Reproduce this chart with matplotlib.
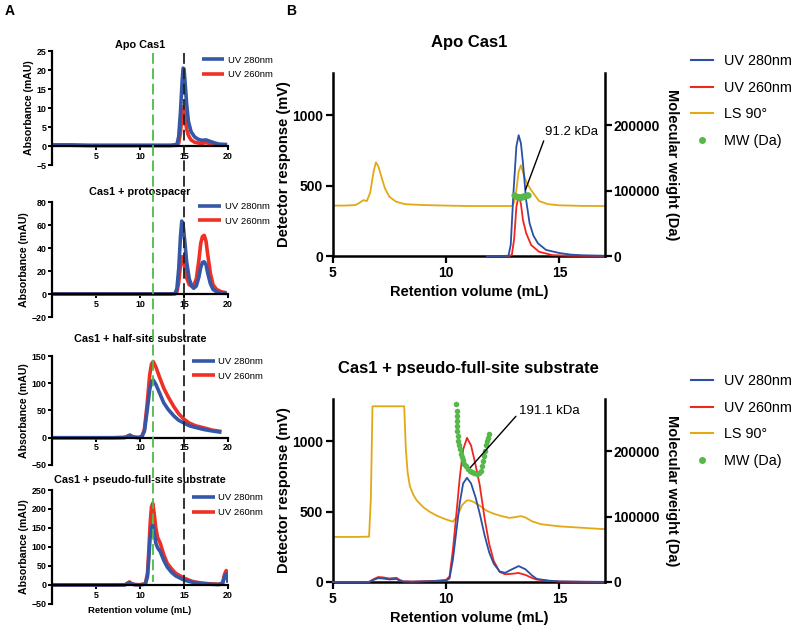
import numpy as np
import matplotlib.pyplot as plt
import matplotlib.transforms as mtransforms
from matplotlib.lines import Line2D

plt.rcParams['font.family'] = ['Liberation Sans', 'DejaVu Sans']

# ---------------- Panel A data (SEC, absorbance in mAU) ----------------
apo_x = [0, 2, 4, 6, 8, 10, 12, 13.5, 14.2, 14.4, 14.6, 14.8, 14.9, 15.0, 15.1,
         15.3, 15.5, 15.8, 16.2, 16.6, 17.0, 17.5, 18.0, 18.5, 19.0, 19.9]
apo_280 = [0.3, 0.3, 0.2, 0.2, 0.2, 0.2, 0.2, 0.2, 0.4, 2.5, 9, 17.5, 20.5, 20.3, 17.5,
           11, 6.5, 3.8, 2.4, 1.8, 1.5, 1.6, 1.2, 0.8, 0.5, 0.4]
apo_260 = [0.2, 0.2, 0.1, 0.1, 0.1, 0.1, 0.1, 0.1, 0.2, 0.8, 3.5, 8.5, 10.3, 9.6, 7.5,
           4.5, 2.8, 1.6, 1.0, 0.8, 0.7, 0.9, 0.6, 0.4, 0.3, 0.2]

proto_x = [0, 4, 8, 12, 13.5, 14.0, 14.2, 14.4, 14.6, 14.75, 14.9, 15.1, 15.3, 15.6,
           15.9, 16.1, 16.4, 16.7, 16.9, 17.1, 17.3, 17.5, 17.7, 18.0, 18.3, 18.7, 19.2, 19.85]
proto_280 = [0, 0, 0, 0, 0, 0.5, 5, 22, 50, 63.5, 60, 45, 28, 13,
             6.5, 5, 7, 15, 23, 27.5, 28, 25.5, 18, 9, 4, 2, 1, 0.5]
proto_260 = [0, 0, 0, 0, 0, 0.2, 2, 10, 25, 32.5, 31, 22, 14, 8,
             7, 7.5, 13, 30, 44, 50, 51, 46, 34, 18, 8, 4, 2, 1]

half_x = [0, 4, 7, 8.3, 8.6, 8.85, 9.1, 9.4, 9.8, 10.2, 10.5, 10.8, 11.1, 11.3, 11.5,
          11.8, 12.2, 12.7, 13.2, 13.85, 14.4, 15.0, 15.6, 16.3, 17.3, 18.2, 19.25]
half_280 = [0, 0, 0, 0.5, 2.5, 4, 2, 0.8, 0.3, 1.5, 12, 48, 88, 102, 106,
            98, 83, 64, 52, 40, 32, 27, 22, 19, 15, 12.5, 10]
half_260 = [0, 0, 0, 0.5, 3, 5, 2.5, 1, 0.5, 2, 15, 60, 115, 135, 140,
            130, 112, 91, 75, 57, 44, 34, 27, 22, 18, 14, 11.5]

pfs_x = [0, 4, 7, 8.3, 8.6, 8.8, 9.0, 9.4, 10.0, 10.6, 10.85, 11.0, 11.15, 11.3, 11.45,
         11.6, 11.8, 12.0, 12.3, 12.7, 13.1, 13.6, 14.05, 15.0, 16.0, 17.0, 18.0, 19.0,
         19.4, 19.6, 19.8, 19.95, 20.0]
pfs_280 = [0, 0, 0, 0.5, 4, 6, 3, 1, 0.5, 2, 22, 70, 125, 152, 158,
           140, 110, 98, 88, 65, 47, 33, 24, 13, 7, 4, 2, 1,
           5, 22, 29, 15, 6]
pfs_260 = [0, 0, 0, 0.5, 5, 8, 4, 1, 0.5, 3, 30, 90, 160, 205, 215,
           190, 150, 125, 110, 80, 57, 42, 31, 18, 9, 5, 3, 2,
           6, 28, 38, 20, 8]

titles_a = ['Apo Cas1', 'Cas1 + protospacer', 'Cas1 + half-site substrate',
            'Cas1 + pseudo-full-site substrate']
ylims_a = [(-5, 25), (-20, 80), (-50, 150), (-50, 250)]
yticks_a = [[-5, 0, 5, 10, 15, 20, 25], [-20, 0, 20, 40, 60, 80],
            [-50, 0, 50, 100, 150], [-50, 0, 50, 100, 150, 200, 250]]
green_ref = 11.5
black_ref = 15.0

# ---------------- Panel B data (SEC-MALS) ----------------
apo_ls_x = [5.0, 5.5, 6.0, 6.2, 6.35, 6.5, 6.65, 6.8, 6.9, 7.0, 7.15, 7.3, 7.5, 7.8, 8.2,
            9, 10, 11, 12, 12.9, 13.0, 13.1, 13.2, 13.3, 13.4, 13.55, 13.75, 14.1, 14.5,
            15, 16, 17]
apo_ls = [358, 358, 362, 380, 397, 390, 450, 600, 665, 640, 560, 480, 420, 385, 368,
          362, 358, 355, 355, 355, 380, 470, 600, 645, 590, 520, 468, 390, 368,
          360, 356, 355]
apo_uv280_x = [11.8, 12.5, 12.75, 12.85, 12.97, 13.1, 13.2, 13.3, 13.39, 13.53, 13.68,
               13.85, 14.05, 14.41, 15.0, 15.5, 16, 17]
apo_uv280 = [0, 0, 2, 80, 450, 780, 858, 800, 660, 397, 234,
             145, 90, 43, 21, 10, 5, 2]
apo_uv260_x = [11.8, 12.8, 12.9, 13.0, 13.1, 13.2, 13.3, 13.39, 13.53, 13.75, 14.1,
               14.7, 15.5, 17]
apo_uv260 = [0, 0, 10, 120, 350, 433, 370, 255, 163, 78, 30,
             6, 2, 0]
apo_mw_x = [12.98, 13.05, 13.1, 13.15, 13.2, 13.25, 13.3, 13.35, 13.4, 13.45, 13.5,
            13.55, 13.6]
apo_mw = [93000, 92000, 91500, 91000, 91000, 90500, 90500, 91000, 91500, 92000, 92500,
          93000, 93000]

pfs_ls_x = [5.0, 6.0, 6.6, 6.68, 6.75, 7.5, 8.15, 8.22, 8.3, 8.4, 8.55, 8.7, 9.0, 9.3,
            9.6, 9.9, 10.3, 10.5, 10.7, 10.9, 11.0, 11.2, 11.5, 11.8, 12.1, 12.4, 12.8,
            13.1, 13.3, 13.5, 13.8, 14.2, 15.0, 16.0, 17.0]
pfs_ls = [320, 320, 322, 600, 1248, 1248, 1248, 950, 780, 680, 620, 580, 530, 496,
          470, 450, 428, 470, 545, 578, 580, 570, 540, 505, 485, 470, 455,
          462, 468, 458, 430, 410, 395, 385, 375]
pfs_uv_x = [5.0, 6.6, 6.8, 7.0, 7.2, 7.5, 7.7, 7.8, 7.95, 8.1, 8.5, 9.5, 10.0, 10.15,
            10.3, 10.45, 10.6, 10.75, 10.92, 11.1, 11.3, 11.48, 11.7, 11.9, 12.1, 12.36,
            12.6, 12.9, 13.2, 13.5, 13.8, 14.0, 14.5, 15.0, 16.0, 17.0]
pfs_uv260 = [0, 0, 20, 35, 33, 25, 28, 30, 15, 5, 3, 8, 15, 40,
             230, 480, 740, 940, 1024, 970, 830, 690, 450, 270, 150, 71,
             55, 58, 64, 50, 28, 17, 8, 3, 1, 0]
pfs_uv280 = [0, 0, 15, 27, 25, 18, 20, 22, 10, 3, 2, 6, 10, 25,
             160, 360, 560, 700, 740, 700, 600, 487, 330, 210, 130, 75,
             65, 90, 113, 90, 45, 22, 10, 4, 2, 1]
pfs_mw_x = [10.45, 10.46, 10.47, 10.48, 10.49, 10.5, 10.51, 10.53, 10.56, 10.6, 10.65,
            10.7, 10.75, 10.8, 10.87, 10.95, 11.05, 11.15, 11.25, 11.35, 11.45, 11.52,
            11.58, 11.63, 11.68, 11.72, 11.76, 11.8, 11.84, 11.87]
pfs_mw = [273000, 262000, 254000, 246000, 238000, 231000, 224000, 216000, 209000, 203000,
          196000, 191000, 186000, 181000, 177000, 173000, 170000, 167500, 166000, 165500,
          166500, 170000, 177000, 185000, 193000, 201000, 209000, 215000, 221000, 226000]

# ---------------- colours ----------------
blue_a, red_a = '#3557a7', '#ee3124'
blue_b, red_b, gold_b, green_b = '#2a4fa3', '#f0261e', '#e3a816', '#55b849'

fig = plt.figure(figsize=(8, 6.27), dpi=100)

# ---------------- Panel A ----------------
a_rects = [[0.065, 0.7368, 0.22, 0.1818], [0.065, 0.4944, 0.22, 0.1834],
           [0.065, 0.2584, 0.22, 0.1738], [0.065, 0.0367, 0.22, 0.1818]]
a_data = [(apo_x, apo_280, apo_260), (proto_x, proto_280, proto_260),
          (half_x, half_280, half_260), (pfs_x, pfs_280, pfs_260)]
title_pads = [2, 5, 10, 5]
leg_anchor = [(0.85, 0.96), (0.83, 1.0), (0.795, 0.99), (0.795, 0.97)]

axes_a = []
for i, rect in enumerate(a_rects):
    ax = fig.add_axes(rect)
    x, b, r = a_data[i]
    ax.plot(x, r, color=red_a, lw=2.6, label='UV 260nm', solid_capstyle='butt')
    ax.plot(x, b, color=blue_a, lw=2.6, label='UV 280nm', solid_capstyle='butt')
    ax.set_xlim(0, 20)
    ax.set_ylim(*ylims_a[i])
    ax.set_xticks([5, 10, 15, 20])
    ax.set_yticks(yticks_a[i])
    ax.spines['top'].set_visible(False)
    ax.spines['right'].set_visible(False)
    ax.spines['bottom'].set_position(('data', 0))
    ax.spines['left'].set_linewidth(1.6)
    ax.spines['bottom'].set_linewidth(1.6)
    ax.tick_params(width=1.4, length=3, labelsize=6.4, pad=1)
    for lab in ax.get_xticklabels() + ax.get_yticklabels():
        lab.set_fontweight('bold')
    ax.set_title(titles_a[i], fontsize=7.8, fontweight='bold', pad=title_pads[i])
    ax.set_ylabel('Absorbance (mAU)', fontsize=7.6, fontweight='bold', labelpad=2)
    h, l = ax.get_legend_handles_labels()
    ax.legend(h[::-1], l[::-1], loc='upper left', bbox_to_anchor=leg_anchor[i],
              frameon=False, fontsize=6.8, handlelength=2.4, handletextpad=0.4,
              labelspacing=0.6, borderpad=0, borderaxespad=0)
    axes_a.append(ax)

axes_a[-1].set_xlabel('Retention volume (mL)', fontsize=6.8, fontweight='bold', labelpad=5)

# dashed reference lines running through all four panel A charts
trans = mtransforms.blended_transform_factory(axes_a[0].transData, fig.transFigure)
fig.add_artist(Line2D([green_ref, green_ref], [0.9155, 0.072], transform=trans,
                      color='#4cbb4a', lw=1.3, dashes=(6, 2.5)))
fig.add_artist(Line2D([black_ref, black_ref], [0.915, 0.068], transform=trans,
                      color='#222222', lw=1.3, dashes=(6, 2.5)))

# ---------------- Panel B ----------------
def style_b(ax, axr, title, pad):
    ax.set_xlim(5, 17)
    ax.set_ylim(0, 1300)
    axr.set_ylim(0, 280000)
    ax.set_xticks([5, 10, 15])
    ax.set_yticks([0, 500, 1000])
    axr.set_yticks([0, 100000, 200000])
    for s in ('top', 'right'):
        ax.spines[s].set_visible(False)
    for s in ('top', 'left', 'bottom'):
        axr.spines[s].set_visible(False)
    ax.spines['left'].set_linewidth(1.8)
    ax.spines['bottom'].set_linewidth(1.8)
    axr.spines['right'].set_linewidth(1.8)
    ax.tick_params(width=1.6, length=5, labelsize=10, pad=2)
    axr.tick_params(width=1.6, length=5, labelsize=10, pad=1)
    for lab in ax.get_xticklabels() + ax.get_yticklabels() + axr.get_yticklabels():
        lab.set_fontweight('bold')
    ax.set_title(title, fontsize=12, fontweight='bold', pad=pad)
    ax.set_xlabel('Retention volume (mL)', fontsize=10.5, fontweight='bold', labelpad=4)
    ax.set_ylabel('Detector response (mV)', fontsize=10.5, fontweight='bold', labelpad=0.5)
    axr.set_ylabel('Molecular weight (Da)', fontsize=10.5, fontweight='bold',
                   rotation=270, va='bottom', labelpad=4)


def legend_b(axr, top):
    handles = [Line2D([], [], color=blue_b, lw=1.5),
               Line2D([], [], color=red_b, lw=1.5),
               Line2D([], [], color=gold_b, lw=1.5),
               Line2D([], [], color=green_b, marker='o', ls='none', markersize=4)]
    labels = ['UV 280nm', 'UV 260nm', 'LS 90°', 'MW (Da)']
    axr.legend(handles, labels, loc='upper left', bbox_to_anchor=(0.864, top),
               bbox_transform=fig.transFigure, frameon=False, fontsize=10.4,
               handlelength=1.5, handletextpad=0.75, labelspacing=0.88,
               borderpad=0, borderaxespad=0)


# top: Apo Cas1
axb1 = fig.add_axes([0.416, 0.5917, 0.34, 0.2919])
axb1r = axb1.twinx()
axb1.plot(apo_ls_x, apo_ls, color=gold_b, lw=1.3)
axb1.plot(apo_uv260_x, apo_uv260, color=red_b, lw=1.3, zorder=3, clip_on=False)
axb1.plot(apo_uv280_x, apo_uv280, color=blue_b, lw=1.3, zorder=3, clip_on=False)
axb1r.plot(apo_mw_x, apo_mw, 'o', color=green_b, markersize=4.5, markeredgewidth=0)
style_b(axb1, axb1r, 'Apo Cas1', 19)
axb1.annotate('91.2 kDa', xy=(13.5, 470), xytext=(14.35, 880), fontsize=9.5,
              ha='left', va='center',
              arrowprops=dict(arrowstyle='-', color='black', lw=1.0, relpos=(0, 0),
                              shrinkA=0, shrinkB=0))
legend_b(axb1r, 0.914)

# bottom: Cas1 + pseudo-full-site substrate
axb2 = fig.add_axes([0.416, 0.0718, 0.34, 0.2919])
axb2r = axb2.twinx()
axb2.plot(pfs_ls_x, pfs_ls, color=gold_b, lw=1.3)
axb2.plot(pfs_uv_x, pfs_uv260, color=red_b, lw=1.3, zorder=3, clip_on=False)
axb2.plot(pfs_uv_x, pfs_uv280, color=blue_b, lw=1.3, zorder=3, clip_on=False)
axb2r.plot(pfs_mw_x, pfs_mw, 'o', color=green_b, markersize=4, markeredgewidth=0)
style_b(axb2, axb2r, 'Cas1 + pseudo-full-site substrate', 18.5)
axb2r.annotate('191.1 kDa', xy=(11.07, 813 * 280000 / 1300), xytext=(13.2, 1216 * 280000 / 1300),
               fontsize=9.5, ha='left', va='center',
               arrowprops=dict(arrowstyle='-', color='black', lw=1.0, relpos=(0, 0.3),
                               shrinkA=0, shrinkB=0))
legend_b(axb2r, 0.4035)

fig.text(0.006, 0.993, 'A', fontsize=10, fontweight='bold', va='top')
fig.text(0.358, 0.993, 'B', fontsize=10, fontweight='bold', va='top')

fig.savefig('out.png', dpi=100)
